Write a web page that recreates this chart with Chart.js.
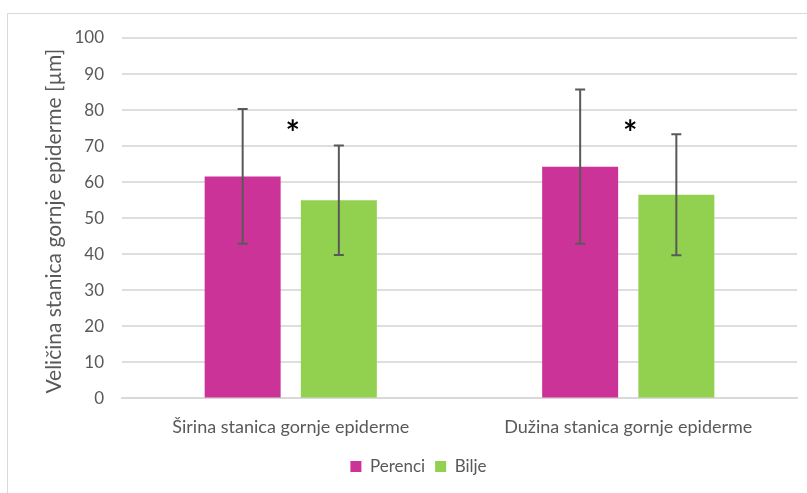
<!DOCTYPE html>
<html>
<head>
<meta charset="utf-8">
<script src="https://cdn.jsdelivr.net/npm/chart.js@4"></script>
<style>
  html, body { margin: 0; padding: 0; background: #fff; overflow: hidden; }
  #wrap { position: relative; width: 807px; height: 493px; }
  #frame { position: absolute; left: 7px; top: 13px; width: 820px; height: 500px; border: 1px solid #d9d9d9; }
  canvas { position: absolute; left: 0; top: 0; }
</style>
</head>
<body>
<div id="wrap">
  <div id="frame"></div>
  <canvas id="chart" width="807" height="493"></canvas>
</div>
<script>
// Data
const categories = ['Širina stanica gornje epiderme', 'Dužina stanica gornje epiderme'];
const perenciValues = [61.6, 64.3];
const perenciErrors = [18.7, 21.4];
const biljeValues = [55.0, 56.5];
const biljeErrors = [15.2, 16.8];
// significance markers (value on y scale where the * sits)
const starLevels = [75.5, 75.5];
const yTicks = [0, 10, 20, 30, 40, 50, 60, 70, 80, 90, 100];
const yTitle = 'Veličina stanica gornje epiderme [µm]';

const TEXT = '#595959';
const FONT = 'Lato, sans-serif';

// error bars, asterisks and the y title drawn by hand
const errorBarPlugin = {
  id: 'errorBars',
  afterDatasetsDraw(chart) {
    const ctx = chart.ctx;
    const y = chart.scales.y;
    const area = chart.chartArea;
    ctx.save();
    ctx.strokeStyle = '#595959';
    ctx.lineWidth = 2;
    chart.data.datasets.forEach((ds, di) => {
      const meta = chart.getDatasetMeta(di);
      meta.data.forEach((bar, i) => {
        const v = ds.data[i];
        const e = ds.errors[i];
        const top = y.getPixelForValue(v + e);
        const bot = y.getPixelForValue(v - e);
        ctx.beginPath();
        ctx.moveTo(bar.x, top); ctx.lineTo(bar.x, bot);
        ctx.moveTo(bar.x - 5, top); ctx.lineTo(bar.x + 5, top);
        ctx.moveTo(bar.x - 5, bot); ctx.lineTo(bar.x + 5, bot);
        ctx.stroke();
      });
    });
    // asterisks
    ctx.fillStyle = '#000';
    ctx.font = 'bold 34px ' + FONT;
    ctx.textAlign = 'center';
    ctx.textBaseline = 'middle';
    const x = chart.scales.x;
    starLevels.forEach((lv, i) => {
      ctx.fillText('*', x.getPixelForValue(i) + 2, y.getPixelForValue(lv) + 8);
    });
    // y axis title
    ctx.fillStyle = TEXT;
    ctx.font = '21px ' + FONT;
    ctx.translate(area.left - 68, (area.top + area.bottom) / 2 + 3);
    ctx.rotate(-Math.PI / 2);
    ctx.fillText(yTitle, 0, 0);
    ctx.restore();
  }
};

new Chart(document.getElementById('chart').getContext('2d'), {
  type: 'bar',
  data: {
    labels: categories,
    datasets: [
      { label: 'Perenci', data: perenciValues, errors: perenciErrors, backgroundColor: '#cc3399', borderWidth: 0 },
      { label: 'Bilje', data: biljeValues, errors: biljeErrors, backgroundColor: '#92d050', borderWidth: 0 }
    ]
  },
  options: {
    responsive: false,
    animation: false,
    categoryPercentage: 0.57,
    barPercentage: 0.79,
    layout: { padding: { top: 38, right: 10, bottom: 8, left: 40 } },
    plugins: {
      tooltip: { enabled: false },
      legend: {
        position: 'bottom',
        labels: { color: TEXT, font: { family: FONT, size: 17 }, boxWidth: 11, boxHeight: 11, padding: 10 }
      }
    },
    scales: {
      x: {
        grid: { display: false },
        border: { color: '#d9d9d9', width: 2 },
        ticks: { color: TEXT, font: { family: FONT, size: 18 }, padding: 10 }
      },
      y: {
        min: 0,
        max: 100,
        afterBuildTicks(scale) { scale.ticks = yTicks.map(v => ({ value: v })); },
        afterFit(scale) { scale.width = 82; },
        grid: { color: '#dedede', lineWidth: 2, tickLength: 0 },
        border: { display: false },
        ticks: { color: TEXT, font: { family: FONT, size: 17 }, padding: 18 }
      }
    }
  },
  plugins: [errorBarPlugin]
});
</script>
</body>
</html>
